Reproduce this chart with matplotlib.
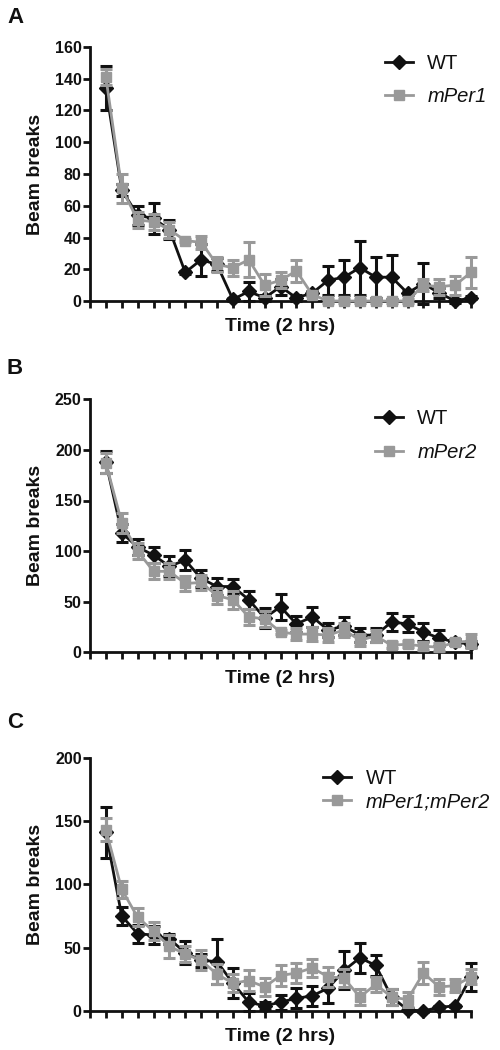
import matplotlib
matplotlib.use("Agg")
import matplotlib.pyplot as plt
from matplotlib.lines import Line2D
import numpy as np

plt.rcParams['font.family'] = ['Liberation Sans', 'DejaVu Sans']

# ---------------- data ----------------
time_bins = list(range(1, 25))

wt_a = [134, 70, 54, 52, 45, 18, 26, 23, 1, 6, 2, 9, 2, 5, 13, 15, 21, 15, 15, 5, 11, 5, 0, 2]
wt_a_err = [14, 4, 6, 10, 6, 1, 10, 4, 1, 6, 2, 5, 2, 1, 9, 11, 17, 13, 14, 1, 13, 3, 1, 1]
per1_a = [141, 71, 51, 50, 45, 38, 37, 23, 21, 26, 10, 13, 19, 4, 0, 0, 0, 0, 0, 0, 10, 9, 10, 18]
per1_a_err = [5, 9, 5, 5, 5, 1, 4, 5, 5, 11, 7, 5, 7, 1, 1, 1, 1, 1, 1, 1, 4, 5, 6, 10]

wt_b = [188, 118, 104, 96, 85, 91, 73, 65, 65, 52, 34, 45, 28, 35, 22, 26, 17, 17, 30, 28, 20, 14, 10, 8]
wt_b_err = [11, 9, 8, 8, 10, 10, 8, 8, 7, 9, 10, 13, 8, 10, 7, 9, 7, 7, 9, 8, 9, 8, 3, 3]
per2_b = [187, 128, 100, 80, 80, 68, 69, 56, 52, 35, 33, 20, 18, 18, 17, 22, 12, 16, 7, 8, 6, 5, 10, 11]
per2_b_err = [10, 10, 8, 8, 8, 7, 7, 8, 9, 8, 8, 2, 6, 7, 7, 7, 6, 6, 3, 3, 4, 4, 3, 7]

wt_c = [141, 75, 61, 60, 57, 46, 40, 39, 22, 7, 4, 7, 10, 12, 18, 32, 42, 36, 11, 1, 0, 3, 4, 27]
wt_c_err = [20, 7, 7, 7, 4, 9, 5, 18, 12, 7, 3, 6, 8, 8, 12, 15, 12, 8, 6, 1, 1, 1, 1, 11]
dko_c = [143, 96, 74, 63, 51, 45, 40, 29, 22, 24, 19, 28, 30, 34, 27, 26, 11, 21, 11, 9, 30, 19, 20, 27]
dko_c_err = [9, 7, 7, 7, 9, 6, 8, 8, 7, 8, 7, 8, 8, 7, 8, 7, 6, 6, 6, 6, 9, 6, 5, 6]

panels = [
    dict(letter='A', wt=wt_a, wt_err=wt_a_err, mut=per1_a, mut_err=per1_a_err,
         mut_label='mPer1', ymax=160, ystep=20,
         pos=(90, 47, 471, 301), leg=(0.774, 0.972), lspace=0.7),
    dict(letter='B', wt=wt_b, wt_err=wt_b_err, mut=per2_b, mut_err=per2_b_err,
         mut_label='mPer2', ymax=250, ystep=50,
         pos=(90, 399.3, 471, 652.3), leg=(0.748, 0.962), lspace=0.75),
    dict(letter='C', wt=wt_c, wt_err=wt_c_err, mut=dko_c, mut_err=dko_c_err,
         mut_label='mPer1;mPer2', ymax=200, ystep=50,
         pos=(90, 757.7, 471, 1011), leg=(0.612, 0.955), lspace=0.2),
]

W, H = 500, 1050
fig = plt.figure(figsize=(W / 100, H / 100), dpi=100)

black = '#111111'
gray = '#999999'
letter_y = {'A': 7, 'B': 358, 'C': 712}

for p in panels:
    x0, y0, x1, y1 = p['pos']
    ax = fig.add_axes([x0 / W, 1 - y1 / H, (x1 - x0) / W, (y1 - y0) / H])
    ax.errorbar(time_bins, p['wt'], yerr=p['wt_err'], color=black, ecolor=black,
                marker='D', markersize=7, linewidth=2.0, elinewidth=2.2, capsize=4.5,
                capthick=2.2, clip_on=False, zorder=3)
    ax.errorbar(time_bins, p['mut'], yerr=p['mut_err'], color=gray, ecolor=gray,
                marker='s', markersize=7, linewidth=2.0, elinewidth=2.2, capsize=4.5,
                capthick=2.2, clip_on=False, zorder=4)
    ax.set_xlim(0, 24)
    ax.set_ylim(0, p['ymax'])
    ax.set_xticks(range(0, 25))
    ax.set_xticklabels([])
    ax.set_yticks(np.arange(0, p['ymax'] + 1, p['ystep']))
    for s in ['top', 'right']:
        ax.spines[s].set_visible(False)
    for s in ['left', 'bottom']:
        ax.spines[s].set_linewidth(2.0)
        ax.spines[s].set_color(black)
    ax.tick_params(axis='both', direction='out', length=5, width=2.0, color=black)
    ax.tick_params(axis='y', labelsize=11.5, pad=1)
    for lab in ax.get_yticklabels():
        lab.set_fontweight('bold')
        lab.set_color(black)
    ax.set_ylabel('Beam breaks', fontsize=14, fontweight='bold', labelpad=8, color=black)
    ax.set_xlabel('Time (2 hrs)', fontsize=14, fontweight='bold', labelpad=4, color=black)
    handles = [
        Line2D([0], [0], color=black, marker='D', markersize=7, linewidth=2.0),
        Line2D([0], [0], color=gray, marker='s', markersize=7, linewidth=2.0),
    ]
    leg = ax.legend(handles, ['WT', p['mut_label']], loc='upper left',
                    bbox_to_anchor=p['leg'], frameon=False,
                    fontsize=14.5, handlelength=1.4, handletextpad=0.7,
                    borderpad=0, borderaxespad=0, labelspacing=p['lspace'])
    texts = leg.get_texts()
    texts[1].set_fontstyle('italic')
    for t in texts:
        t.set_color(black)
    fig.text(7 / W, 1 - letter_y[p['letter']] / H, p['letter'], fontsize=16,
             fontweight='bold', va='top', ha='left', color=black)

fig.savefig('out.png', dpi=100)
